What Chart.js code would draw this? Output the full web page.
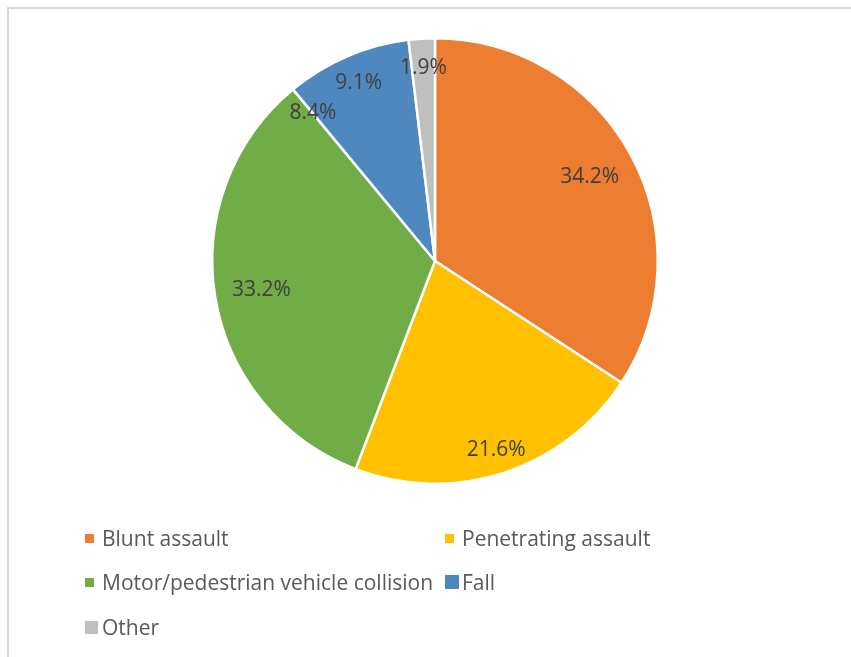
<!DOCTYPE html>
<html>
<head>
<meta charset="utf-8">
<script src="https://cdn.jsdelivr.net/npm/chart.js@4.4.1/dist/chart.umd.min.js"></script>
<style>
  html, body { margin: 0; padding: 0; background: #fff; }
  #frame {
    position: absolute; left: 7px; top: 7px; width: 850px; height: 660px;
    border-left: 2px solid #d9d9d9; border-top: 2px solid #d9d9d9;
  }
  #pieBox { position: absolute; left: 185px; top: 11px; width: 500px; height: 500px; }
  #legend { position: absolute; left: 0; top: 0; width: 851px; height: 657px; pointer-events: none; }
  .item { position: absolute; display: flex; align-items: center; font-family: 'Open Sans', sans-serif;
          font-size: 21px; color: #595959; white-space: nowrap; }
  .sw { display: inline-block; }
</style>
</head>
<body>
<div id="frame"></div>
<div id="pieBox"><canvas id="pie" width="500" height="500" style="width:500px;height:500px"></canvas></div>
<div id="legend"></div>
<script>
// 데이터
const categories = ['Blunt assault', 'Penetrating assault', 'Motor/pedestrian vehicle collision', 'Fall', 'Other'];
const percents = [34.2, 21.6, 33.2, 9.1, 1.9];
const colors = ['#ED7D31', '#FFC000', '#70AD47', '#4E88BE', '#BFBFBF'];
// stray label that sits on the green/blue edge in the original
const strayLabel = '8.4%';

// label distance from centre, fraction of radius
const labelRadius = [0.79, 0.89, 0.79, 0.87, 0.87];

const labelPlugin = {
  id: 'pctLabels',
  afterDatasetsDraw(chart) {
    const c = chart.ctx;
    const arcs = chart.getDatasetMeta(0).data;
    c.save();
    c.font = '21px "Open Sans"';
    c.fillStyle = '#404040';
    c.textAlign = 'center';
    c.textBaseline = 'middle';
    arcs.forEach((arc, i) => {
      const a = (arc.startAngle + arc.endAngle) / 2;
      const r = arc.outerRadius * labelRadius[i];
      c.fillText(percents[i].toFixed(1) + '%', arc.x + Math.cos(a) * r, arc.y + Math.sin(a) * r);
    });
    // extra label on the boundary between slice 2 and 3
    const b = arcs[3];
    const r2 = b.outerRadius * 0.86;
    c.fillText(strayLabel, b.x + Math.cos(b.startAngle) * r2, b.y + Math.sin(b.startAngle) * r2);
    c.restore();
  },
};

new Chart(document.getElementById('pie'), {
  type: 'pie',
  data: {
    labels: categories,
    datasets: [{
      data: percents,
      backgroundColor: colors,
      borderColor: '#ffffff',
      borderWidth: 2.5,
    }],
  },
  options: {
    responsive: false,
    maintainAspectRatio: false,
    animation: false,
    layout: { padding: 26 },
    plugins: { legend: { display: false }, tooltip: { enabled: false } },
  },
  plugins: [labelPlugin],
});

// 범례
const legendPos = [[85, 538], [445, 538], [85, 582], [445, 582], [85, 627]];
const swatchSize = [9, 9, 9, 14, 13];
const legend = document.getElementById('legend');
categories.forEach((name, i) => {
  const d = document.createElement('div');
  d.className = 'item';
  const s = swatchSize[i];
  d.style.left = legendPos[i][0] + 'px';
  d.style.top = (legendPos[i][1] - 14) + 'px';
  d.style.height = '28px';
  d.innerHTML = '<span class="sw" style="width:' + s + 'px;height:' + s + 'px;background:' + colors[i] +
    ';margin-right:' + (17 - s) + 'px"></span>' + name;
  legend.appendChild(d);
});
</script>
</body>
</html>
